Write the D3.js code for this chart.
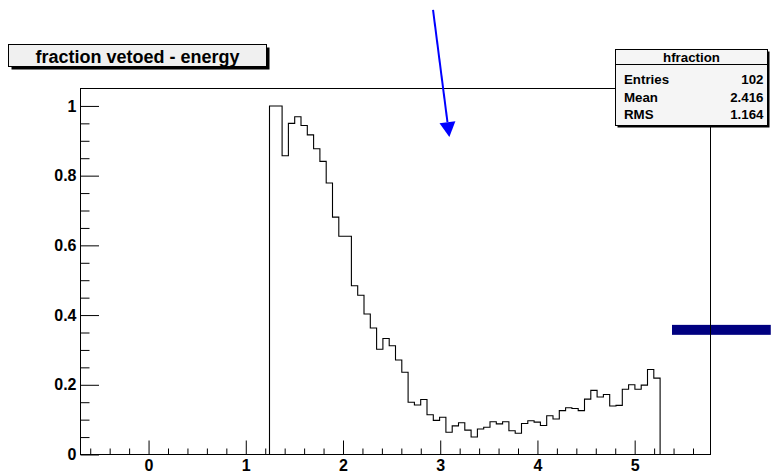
<!DOCTYPE html>
<html>
<head>
<meta charset="utf-8">
<script src="https://cdn.jsdelivr.net/npm/d3@7"></script>
<style>
  html, body { margin: 0; padding: 0; background: #ffffff; }
  svg { display: block; }
  text { font-family: "Liberation Sans", Arial, Helvetica, sans-serif; font-weight: bold; fill: #000; }
</style>
</head>
<body>
<svg id="chart" width="771" height="474"></svg>
<script>
// Histogram "hfraction": 100 equal bins between xLow and xHigh
const xLow = -0.7;
const xHigh = 5.78;
const nBins = 100;

// Bin contents (fraction vetoed), bin 0 .. bin 99
const leadingEmptyBins = new Array(30).fill(0);
const filledBins = [
  1.000, 1.000, 0.857, 0.950, 0.969, 0.944, 0.917, 0.877, 0.841, 0.779,
  0.681, 0.626, 0.626, 0.484, 0.457, 0.403, 0.363, 0.302, 0.333, 0.312,
  0.271, 0.236, 0.150, 0.142, 0.158, 0.114, 0.098, 0.107, 0.064, 0.082,
  0.091, 0.070, 0.050, 0.073, 0.078, 0.094, 0.088, 0.094, 0.068, 0.061,
  0.089, 0.097, 0.093, 0.083, 0.111, 0.102, 0.126, 0.134, 0.132, 0.126,
  0.159, 0.184, 0.165, 0.172, 0.139, 0.141, 0.187, 0.200, 0.187, 0.199,
  0.244, 0.219
];
const trailingEmptyBins = new Array(8).fill(0);
const binContents = leadingEmptyBins.concat(filledBins, trailingEmptyBins);

// Axis ticks and labels
const xMajorTicks = [0, 1, 2, 3, 4, 5];
const xTickLabels = ["0", "1", "2", "3", "4", "5"];
const yMajorTicks = [0, 0.2, 0.4, 0.6, 0.8, 1];
const yTickLabels = ["0", "0.2", "0.4", "0.6", "0.8", "1"];
const yMax = 1.05;

// Title and statistics box text
const titleText = "fraction vetoed - energy";
const statsName = "hfraction";
const statsLabels = ["Entries", "Mean", "RMS"];
const statsValues = ["102", "2.416", "1.164"];

// Annotations in data coordinates
const arrowFrom = [2.926, 1.2756];
const arrowTo = [3.094, 0.9106];
const markerBand = { x0: 5.384, x1: 6.40, y0: 0.3433, y1: 0.3719 };

const svg = d3.select("#chart");

const frame = { left: 80.5, right: 710.5, top: 88.5, bottom: 454.5 };
const x = d3.scaleLinear().domain([xLow, xHigh]).range([frame.left, frame.right]);
const y = d3.scaleLinear().domain([0, yMax]).range([frame.bottom, frame.top]);
const binWidth = (xHigh - xLow) / nBins;

// Horizontal marker band (drawn under the frame)
svg.append("rect")
  .attr("x", x(markerBand.x0))
  .attr("y", y(markerBand.y1))
  .attr("width", x(markerBand.x1) - x(markerBand.x0))
  .attr("height", y(markerBand.y0) - y(markerBand.y1))
  .attr("fill", "#000080");

// Frame
svg.append("rect")
  .attr("x", frame.left).attr("y", frame.top)
  .attr("width", frame.right - frame.left)
  .attr("height", frame.bottom - frame.top)
  .attr("fill", "none").attr("stroke", "#000").attr("stroke-width", 1);

// X axis: major ticks with labels, minor ticks every 0.2
const xAxisG = svg.append("g").attr("transform", `translate(0,${frame.bottom})`);
xAxisG.call(d3.axisBottom(x)
  .tickValues(xMajorTicks)
  .tickFormat((d, i) => xTickLabels[i])
  .tickSizeInner(-14).tickSizeOuter(0).tickPadding(5));
const xMinor = d3.range(-3, 29).map(k => +(k * 0.2).toFixed(2))
  .filter(v => v > xLow && v < xHigh && !xMajorTicks.includes(v));
const xMinorG = svg.append("g").attr("transform", `translate(0,${frame.bottom})`);
xMinorG.call(d3.axisBottom(x).tickValues(xMinor).tickFormat("")
  .tickSizeInner(-6).tickSizeOuter(0));

// Y axis: major ticks with labels, minor ticks every 0.05
const yAxisG = svg.append("g").attr("transform", `translate(${frame.left},0)`);
yAxisG.call(d3.axisLeft(y)
  .tickValues(yMajorTicks)
  .tickFormat((d, i) => yTickLabels[i])
  .tickSizeInner(-18.5).tickSizeOuter(0).tickPadding(4));
const yMinor = d3.range(1, 21).map(k => +(k * 0.05).toFixed(2))
  .filter(v => !yMajorTicks.includes(v));
const yMinorG = svg.append("g").attr("transform", `translate(${frame.left},0)`);
yMinorG.call(d3.axisLeft(y).tickValues(yMinor).tickFormat("")
  .tickSizeInner(-9).tickSizeOuter(0));

[xAxisG, xMinorG, yAxisG, yMinorG].forEach(g => {
  g.select(".domain").remove();
  g.selectAll(".tick line").attr("stroke", "#000").attr("stroke-width", 1);
  g.selectAll("text")
    .attr("font-family", '"Liberation Sans", Arial, sans-serif')
    .attr("font-weight", "bold").attr("font-size", 16).attr("fill", "#000");
});

// Histogram outline
const first = binContents.findIndex(v => v !== 0);
let last = binContents.length - 1;
while (last > 0 && binContents[last] === 0) last--;
const pts = [[xLow + first * binWidth, 0]];
for (let i = first; i <= last; i++) {
  const lo = xLow + i * binWidth, hi = lo + binWidth;
  pts.push([lo, binContents[i]], [hi, binContents[i]]);
}
pts.push([xLow + (last + 1) * binWidth, 0]);
svg.append("path")
  .attr("d", d3.line().x(d => x(d[0])).y(d => y(d[1]))(pts))
  .attr("fill", "none").attr("stroke", "#000").attr("stroke-width", 1.1);

// Arrow
const ax0 = x(arrowFrom[0]), ay0 = y(arrowFrom[1]);
const ax1 = x(arrowTo[0]), ay1 = y(arrowTo[1]);
const ang = Math.atan2(ay1 - ay0, ax1 - ax0);
const headLen = 15, headHalf = 8;
const bx = ax1 - headLen * Math.cos(ang), by = ay1 - headLen * Math.sin(ang);
svg.append("line")
  .attr("x1", ax0).attr("y1", ay0).attr("x2", bx).attr("y2", by)
  .attr("stroke", "#0000ff").attr("stroke-width", 2);
svg.append("polygon")
  .attr("points", [
    [ax1, ay1],
    [bx + headHalf * Math.sin(ang), by - headHalf * Math.cos(ang)],
    [bx - headHalf * Math.sin(ang), by + headHalf * Math.cos(ang)]
  ].map(p => p.join(",")).join(" "))
  .attr("fill", "#0000ff");

// Title box with shadow
const tb = { x: 8.5, y: 44.5, w: 258, h: 22 };
svg.append("rect").attr("x", tb.x + 3).attr("y", tb.y + 3)
  .attr("width", tb.w).attr("height", tb.h).attr("fill", "#000");
svg.append("rect").attr("x", tb.x).attr("y", tb.y)
  .attr("width", tb.w).attr("height", tb.h)
  .attr("fill", "#f0f0f0").attr("stroke", "#000").attr("stroke-width", 1);
svg.append("text")
  .attr("x", tb.x + tb.w / 2).attr("y", 62.5)
  .attr("text-anchor", "middle").attr("font-size", 18)
  .text(titleText);

// Statistics box with shadow
const sb = { x: 615.5, y: 49.5, w: 152, h: 76 };
svg.append("rect").attr("x", sb.x + 2).attr("y", sb.y + 2)
  .attr("width", sb.w).attr("height", sb.h).attr("fill", "#000");
svg.append("rect").attr("x", sb.x).attr("y", sb.y)
  .attr("width", sb.w).attr("height", sb.h)
  .attr("fill", "#f5f5f5").attr("stroke", "#000").attr("stroke-width", 1);
svg.append("line")
  .attr("x1", sb.x).attr("x2", sb.x + sb.w)
  .attr("y1", 64.5).attr("y2", 64.5)
  .attr("stroke", "#000").attr("stroke-width", 1);
svg.append("text")
  .attr("x", sb.x + sb.w / 2).attr("y", 62)
  .attr("text-anchor", "middle").attr("font-size", 13.3)
  .text(statsName);
const rowBase = [84, 101.5, 119];
statsLabels.forEach((lab, i) => {
  svg.append("text").attr("x", 624).attr("y", rowBase[i])
    .attr("font-size", 13.3).text(lab);
  svg.append("text").attr("x", 763.5).attr("y", rowBase[i])
    .attr("text-anchor", "end").attr("font-size", 13.3).text(statsValues[i]);
});
</script>
</body>
</html>
